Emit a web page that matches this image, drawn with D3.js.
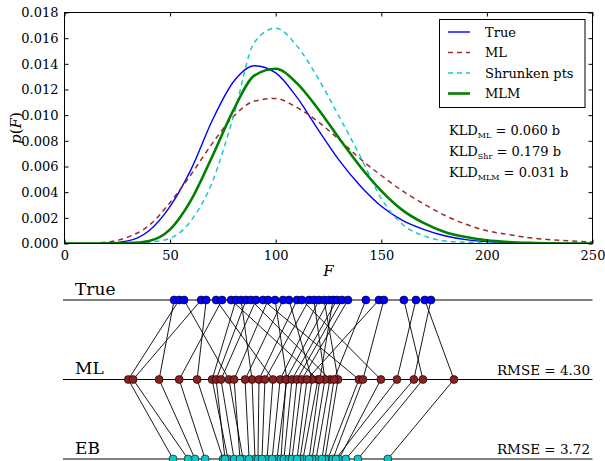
<!DOCTYPE html>
<html>
<head>
<meta charset="utf-8">
<script src="https://cdn.jsdelivr.net/npm/d3@7"></script>
<style>
  html, body { margin: 0; padding: 0; background: #fff; }
  svg text { font-family: "DejaVu Serif", serif; fill: #000; }
</style>
</head>
<body>
<svg id="chart" width="605" height="461"></svg>
<script>
// Density grid (F) and curve values
const fGrid = [0, 10, 20, 30, 40, 50, 60, 70, 80, 90, 100, 110, 120, 130, 140, 150, 160, 170, 180, 190, 200, 210, 220, 230, 240, 250];
const pTrue = [0, 0, 0.00002, 0.0002, 0.0010, 0.0029, 0.0058, 0.0096, 0.0126, 0.01385, 0.0133, 0.0114, 0.0089, 0.0065, 0.0045, 0.0029, 0.0018, 0.0011, 0.0006, 0.0003, 0.00015, 0.00007, 0.00003, 0.00001, 0, 0];
const pML = [0, 0, 0.0001, 0.0005, 0.0014, 0.0032, 0.0054, 0.0078, 0.0099, 0.0111, 0.0113, 0.0106, 0.0095, 0.0081, 0.0066, 0.0053, 0.0041, 0.0031, 0.0022, 0.0015, 0.0010, 0.0007, 0.00045, 0.0003, 0.0002, 0.00012];
const pShrunk = [0, 0, 0, 0, 0.0001, 0.0004, 0.0018, 0.0048, 0.0099, 0.0157, 0.01678, 0.0154, 0.0129, 0.0099, 0.0068, 0.0035, 0.0015, 0.0006, 0.0002, 0.0001, 0.00003, 0, 0, 0, 0, 0];
const pMLM = [0, 0, 0, 0.00003, 0.0002, 0.0011, 0.0034, 0.0068, 0.0104, 0.0131, 0.01362, 0.0125, 0.0105, 0.0082, 0.0060, 0.0041, 0.0026, 0.0016, 0.0009, 0.0005, 0.00025, 0.00012, 0.00005, 0.00002, 0, 0];

const seriesNames = ["True", "ML", "Shrunken pts", "MLM"];
const xTicks = [0, 50, 100, 150, 200, 250];
const yTicks = [0, 0.002, 0.004, 0.006, 0.008, 0.010, 0.012, 0.014, 0.016, 0.018];

// KL divergences (bits)
const kldLabels = ["ML", "Shr", "MLM"];
const kldValues = ["0.060", "0.179", "0.031"];

// Per-object values: true, maximum-likelihood, empirical-Bayes
const trueVals = [51.9, 54.3, 56.6, 64.7, 67.1, 71.8, 74.6, 78.9, 81.2, 83.6, 86.0, 88.3, 90.7, 94.0, 96.4, 99.7, 103.5, 106.3, 110.1, 112.4, 115.8, 118.1, 120.5, 122.9, 125.2, 127.1, 129.0, 131.4, 134.2, 142.7, 148.9, 151.2, 160.7, 166.4, 170.6, 173.5];
const mlVals = [44.8, 30.2, 77.9, 32.5, 62.8, 98.7, 54.3, 120.0, 69.9, 88.8, 71.8, 125.7, 74.1, 139.4, 80.3, 105.3, 85.5, 117.2, 92.1, 149.8, 94.9, 123.3, 102.1, 129.5, 104.9, 120.9, 107.7, 110.1, 112.4, 127.6, 114.8, 141.3, 169.7, 157.4, 184.4, 165.4];
const ebVals = [61.8, 51.4, 84.5, 58.5, 75.1, 95.9, 66.6, 112.9, 77.4, 90.2, 76.0, 119.1, 80.3, 124.7, 83.1, 100.6, 87.4, 111.5, 91.6, 129.9, 93.5, 117.2, 98.3, 123.3, 102.5, 115.8, 103.9, 106.3, 107.7, 121.9, 110.1, 127.1, 138.9, 128.5, 153.1, 133.2];
const rowNames = ["True", "ML", "EB"];
const rmseValues = [null, "4.30", "3.72"];

const svg = d3.select("#chart");
const plotLeft = 64.5, plotRight = 592.5, plotTop = 12.5, plotBottom = 243.5;
const x = d3.scaleLinear().domain([0, 250]).range([plotLeft, plotRight]);
const y = d3.scaleLinear().domain([0, 0.018]).range([plotBottom, plotTop]);

// ---------- density panel ----------
const styles = [
  { color: "#0000ff", width: 1.4, dash: null },
  { color: "#9b2a2a", width: 1.5, dash: "5,4" },
  { color: "#1cc7c7", width: 1.5, dash: "5,4" },
  { color: "#008000", width: 2.6, dash: null }
];
const curves = [pTrue, pML, pShrunk, pMLM];

const line = d3.line()
  .x((d, i) => x(fGrid[i]))
  .y(d => y(d))
  .curve(d3.curveMonotoneX);

const plot = svg.append("g");
plot.append("defs").append("clipPath").attr("id", "clip")
  .append("rect").attr("x", plotLeft).attr("y", plotTop).attr("width", plotRight - plotLeft).attr("height", plotBottom - plotTop);

const curveG = plot.append("g").attr("clip-path", "url(#clip)");
curves.forEach((c, k) => {
  curveG.append("path")
    .attr("d", line(c))
    .attr("fill", "none")
    .attr("stroke", styles[k].color)
    .attr("stroke-width", styles[k].width)
    .attr("stroke-dasharray", styles[k].dash);
});

// axes with inward ticks on all sides
const tickLen = 4;
const xAxisB = d3.axisBottom(x).tickValues(xTicks).tickSize(-tickLen).tickPadding(7).tickFormat(d3.format("d"));
const xAxisT = d3.axisTop(x).tickValues(xTicks).tickSize(-tickLen).tickFormat("");
const yAxisL = d3.axisLeft(y).tickValues(yTicks).tickSize(-tickLen).tickPadding(6).tickFormat(d3.format(".3f"));
const yAxisR = d3.axisRight(y).tickValues(yTicks).tickSize(-tickLen).tickFormat("");

function styleAxis(g) {
  g.attr("font-family", null);
  g.select(".domain").remove();
  g.selectAll(".tick line").attr("stroke", "#000").attr("stroke-width", 1);
  g.selectAll(".tick text").style("font-family", "'DejaVu Serif', serif").style("font-size", "13px").attr("fill", "#000");
}
plot.append("g").attr("transform", `translate(0,${plotBottom})`).call(xAxisB).call(styleAxis);
plot.append("g").attr("transform", `translate(0,${plotTop})`).call(xAxisT).call(styleAxis);
plot.append("g").attr("transform", `translate(${plotLeft},0)`).call(yAxisL).call(styleAxis);
plot.append("g").attr("transform", `translate(${plotRight},0)`).call(yAxisR).call(styleAxis);

plot.append("rect")
  .attr("x", plotLeft).attr("y", plotTop).attr("width", plotRight - plotLeft).attr("height", plotBottom - plotTop)
  .attr("fill", "none").attr("stroke", "#000").attr("stroke-width", 1);

// axis titles
const yTitle = plot.append("text")
  .attr("transform", `translate(21,${(plotTop + plotBottom) / 2}) rotate(-90)`)
  .attr("text-anchor", "middle")
  .style("font-size", "15px");
yTitle.append("tspan").style("font-style", "italic").text("p");
yTitle.append("tspan").text("(");
yTitle.append("tspan").style("font-style", "italic").text("F");
yTitle.append("tspan").text(")");

plot.append("text")
  .attr("x", (plotLeft + plotRight) / 2).attr("y", 276)
  .attr("text-anchor", "middle")
  .style("font-size", "15px").style("font-style", "italic")
  .text("F");

// legend
const legend = plot.append("g");
legend.append("rect")
  .attr("x", 439.5).attr("y", 19.5).attr("width", 145.5).attr("height", 88)
  .attr("fill", "#fff").attr("stroke", "#000").attr("stroke-width", 1);
seriesNames.forEach((name, k) => {
  const yy = 32 + k * 20.5;
  legend.append("line")
    .attr("x1", 448).attr("x2", 470).attr("y1", yy).attr("y2", yy)
    .attr("stroke", styles[k].color)
    .attr("stroke-width", styles[k].width)
    .attr("stroke-dasharray", styles[k].dash);
  legend.append("text")
    .attr("x", 485).attr("y", yy + 4.5)
    .style("font-size", "13px")
    .text(name);
});

// KL divergence annotations
kldLabels.forEach((lab, k) => {
  const t = plot.append("text")
    .attr("x", 449).attr("y", 134.5 + k * 21)
    .style("font-size", "13px");
  t.append("tspan").text("KLD");
  t.append("tspan").attr("dy", 3).style("font-size", "8px").text(lab);
  t.append("tspan").attr("dy", -3).text(" = " + kldValues[k] + " b");
});

// ---------- object comparison panel ----------
const rowY = [300, 379.5, 459];
const rows = [trueVals, mlVals, ebVals];
const dotColors = ["#0000ff", "#8b2020", "#12c4c4"];
const lower = svg.append("g");

rowY.forEach((yy, r) => {
  lower.append("line")
    .attr("x1", 63).attr("x2", plotRight).attr("y1", yy).attr("y2", yy)
    .attr("stroke", "#000").attr("stroke-width", 1);
  lower.append("text")
    .attr("x", 75).attr("y", yy - 5.5)
    .style("font-size", "17px")
    .text(rowNames[r]);
  if (rmseValues[r]) {
    lower.append("text")
      .attr("x", 590).attr("y", yy - 5)
      .attr("text-anchor", "end")
      .style("font-size", "13.5px")
      .text("RMSE = " + rmseValues[r]);
  }
});

// links between each object's estimates
const links = lower.append("g")
  .attr("stroke", "#000").attr("stroke-width", 0.9);
for (let r = 0; r < 2; r++) {
  rows[r].forEach((v, i) => {
    links.append("line")
      .attr("x1", x(v)).attr("y1", rowY[r])
      .attr("x2", x(rows[r + 1][i])).attr("y2", rowY[r + 1]);
  });
}

rows.forEach((vals, r) => {
  lower.append("g").selectAll("circle")
    .data(vals)
    .join("circle")
    .attr("cx", d => x(d))
    .attr("cy", rowY[r])
    .attr("r", 4)
    .attr("fill", dotColors[r])
    .attr("stroke", "#000")
    .attr("stroke-width", 0.6);
});
</script>
</body>
</html>
